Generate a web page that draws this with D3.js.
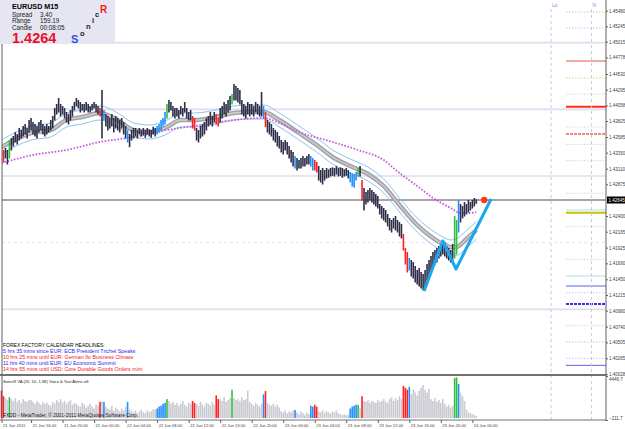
<!DOCTYPE html>
<html><head><meta charset="utf-8">
<script src="https://cdn.jsdelivr.net/npm/d3@7"></script>
<style>body{margin:0;background:#fff}svg{display:block}text{font-family:"Liberation Sans",Arial,sans-serif}</style>
</head><body><svg id="c" width="625" height="429"></svg>
<script>
// ---------- DATA ----------
const highs = [1.4345,1.4339,1.4342,1.4339,1.4354,1.4357,1.4360,1.4366,1.4363,1.4372,
1.4369,1.4375,1.4378,1.4372,1.4384,1.4387,1.4381,1.4378,1.4375,1.4381,
1.4384,1.4378,1.4375,1.4378,1.4375,1.4384,1.4390,1.4402,1.4408,1.4417,
1.4408,1.4405,1.4402,1.4396,1.4393,1.4399,1.4405,1.4411,1.4417,1.4414,
1.4411,1.4408,1.4408,1.4411,1.4408,1.4405,1.4408,1.4411,1.4408,1.4405,
1.4402,1.4429,1.4399,1.4393,1.4390,1.4387,1.4393,1.4387,1.4390,1.4387,
1.4384,1.4387,1.4381,1.4375,1.4369,1.4363,1.4369,1.4372,1.4372,1.4369,
1.4372,1.4369,1.4372,1.4369,1.4372,1.4370,1.4369,1.4374,1.4372,1.4375,
1.4378,1.4384,1.4387,1.4396,1.4408,1.4414,1.4411,1.4405,1.4402,1.4402,
1.4399,1.4405,1.4402,1.4411,1.4402,1.4396,1.4399,1.4390,1.4387,1.4372,
1.4369,1.4375,1.4378,1.4381,1.4387,1.4390,1.4396,1.4390,1.4396,1.4393,
1.4387,1.4402,1.4405,1.4411,1.4408,1.4414,1.4420,1.4423,1.4438,1.4435,
1.4432,1.4429,1.4414,1.4408,1.4405,1.4411,1.4408,1.4408,1.4405,1.4411,
1.4408,1.4405,1.4426,1.4405,1.4396,1.4384,1.4381,1.4378,1.4372,1.4369,
1.4366,1.4360,1.4354,1.4351,1.4354,1.4351,1.4345,1.4339,1.4336,1.4330,
1.4327,1.4324,1.4327,1.4330,1.4327,1.4330,1.4333,1.4330,1.4327,1.4324,
1.4321,1.4315,1.4309,1.4312,1.4309,1.4312,1.4310,1.4312,1.4313,1.4312,
1.4315,1.4312,1.4313,1.4312,1.4310,1.4312,1.4309,1.4306,1.4304,1.4303,
1.4306,1.4312,1.4315,1.4294,1.4282,1.4276,1.4279,1.4282,1.4279,1.4276,
1.4273,1.4270,1.4258,1.4255,1.4252,1.4249,1.4243,1.4237,1.4234,1.4237,
1.4240,1.4234,1.4231,1.4228,1.4213,1.4192,1.4186,1.4177,1.4174,1.4171,
1.4165,1.4159,1.4162,1.4156,1.4153,1.4159,1.4168,1.4174,1.4180,1.4186,
1.4189,1.4192,1.4195,1.4198,1.4204,1.4201,1.4195,1.4192,1.4189,1.4198,
1.4240,1.4234,1.4264,1.4258,1.4255,1.4261,1.4258,1.4264,1.4261,1.4264,
1.4267,1.4265];
const lows = [1.4324,1.4321,1.4327,1.4318,1.4327,1.4339,1.4345,1.4351,1.4348,1.4354,
1.4357,1.4360,1.4363,1.4357,1.4366,1.4369,1.4363,1.4360,1.4357,1.4366,
1.4369,1.4363,1.4360,1.4363,1.4366,1.4369,1.4372,1.4384,1.4393,1.4396,
1.4390,1.4393,1.4387,1.4381,1.4378,1.4384,1.4390,1.4399,1.4405,1.4402,
1.4396,1.4399,1.4396,1.4399,1.4396,1.4396,1.4399,1.4402,1.4396,1.4393,
1.4390,1.4357,1.4384,1.4375,1.4369,1.4372,1.4375,1.4366,1.4372,1.4369,
1.4366,1.4372,1.4363,1.4357,1.4351,1.4344,1.4354,1.4357,1.4360,1.4357,
1.4363,1.4360,1.4362,1.4358,1.4363,1.4360,1.4358,1.4363,1.4360,1.4363,
1.4366,1.4369,1.4375,1.4378,1.4387,1.4396,1.4399,1.4390,1.4387,1.4390,
1.4387,1.4393,1.4390,1.4396,1.4387,1.4384,1.4384,1.4372,1.4369,1.4354,
1.4351,1.4357,1.4360,1.4363,1.4369,1.4375,1.4378,1.4375,1.4381,1.4378,
1.4375,1.4381,1.4387,1.4393,1.4390,1.4396,1.4399,1.4408,1.4414,1.4414,
1.4411,1.4408,1.4393,1.4390,1.4387,1.4393,1.4390,1.4393,1.4390,1.4396,
1.4393,1.4390,1.4390,1.4387,1.4374,1.4366,1.4363,1.4360,1.4354,1.4351,
1.4345,1.4342,1.4336,1.4333,1.4339,1.4333,1.4327,1.4321,1.4315,1.4312,
1.4309,1.4312,1.4312,1.4315,1.4315,1.4318,1.4318,1.4315,1.4309,1.4309,
1.4306,1.4294,1.4291,1.4288,1.4294,1.4297,1.4298,1.4300,1.4301,1.4300,
1.4303,1.4300,1.4301,1.4298,1.4300,1.4301,1.4297,1.4291,1.4285,1.4283,
1.4294,1.4300,1.4300,1.4264,1.4249,1.4258,1.4261,1.4264,1.4261,1.4258,
1.4255,1.4252,1.4243,1.4237,1.4234,1.4231,1.4225,1.4219,1.4216,1.4222,
1.4219,1.4216,1.4210,1.4207,1.4189,1.4168,1.4156,1.4159,1.4150,1.4147,
1.4141,1.4138,1.4135,1.4132,1.4129,1.4135,1.4144,1.4147,1.4159,1.4165,
1.4168,1.4171,1.4177,1.4180,1.4183,1.4180,1.4177,1.4174,1.4171,1.4174,
1.4177,1.4183,1.4216,1.4231,1.4237,1.4240,1.4243,1.4246,1.4249,1.4252,
1.4255,1.4259];
const volumes = [2900,2300,2100,1900,2200,
2000,1800,2100,1700,1900,1600,2000,1800,1700,1900,
1900,1700,1500,1800,1600,1400,1700,1500,
1600,1400,1300,1700,1500,
1900,1700,2000,1600,1800,1500,1700,1900,1400,1600,
1500,1300,1200,1600,1400,1100,1300,1500,1200,1000,1400,1300,
1700,1800,1700,
1200,1000,900,1300,800,1100,900,700,1000,800,1200,
1700,
900,700,600,800,500,700,900,600,500,800,600,700,900,
900,1000,1200,1300,1500,1600,
2000,
1800,1500,1700,1400,1600,1300,1500,1800,1400,1200,1600,1500,
1800,1600,
1500,1300,1700,1400,1200,1600,1500,1300,1700,1400,
2400,2000,
2000,1800,2200,1700,1900,2100,
3000,
2100,1900,2000,1800,2200,1900,2000,2900,
1700,1500,1300,1600,1400,1200,
1500,2500,2850,
1600,1400,1300,1500,1200,1400,1100,
700,600,800,500,700,600,800,
850,
600,400,700,500,300,600,400,
1300,1200,1400,1200,
700,600,800,500,700,600,500,700,600,800,500,
400,300,400,300,350,
1000,1200,1300,1400,
1400,1000,
2300,
1800,1700,1900,1600,1800,1700,1600,1900,1700,1800,2000,1700,1600,
2000,2200,1800,2100,1900,2300,2000,
3400,3200,3000,3300,
2500,3000,2700,2400,2900,
3200,3500,3000,2700,3100,
2000,1800,2100,1700,1900,1600,2000,
1500,1200,1400,1100,1300,
4250,4300,3600,
2700,2300,1800,
900,600,500,400,300,200];
const redBars = [0,1,50,97,98,109,110,134,159,160,183,204,205,206];
const greenBars = [4,84,117,181,230,231];
const blueBars = [52,64,79,80,81,82,83,133,149,157,158,177,178,179,180,207,232];

// Sonic R dragon (EMA34 band) and EMA89, knots at bar index
const maIdx = [0,15,25,33,41,50,59,67,75,83,91,98,109,118,126,133,141,151,160,168,177,186,194,202,211,219,224,228,231,236,241];
const dragonMid = [1.43435,1.43645,1.4369,1.4384,1.43885,1.43945,1.4384,1.4369,1.4366,1.4372,1.4384,1.4384,1.43885,1.43945,1.4396,1.4396,1.4384,1.43645,1.43465,1.43285,1.4315,1.4303,1.4285,1.42565,1.42265,1.4207,1.4198,1.41935,1.41935,1.42055,1.4219];
const dragonHigh = [1.4354,1.4375,1.43795,1.43945,1.4399,1.4405,1.43945,1.43795,1.43765,1.43825,1.43945,1.43945,1.4399,1.4405,1.44065,1.44065,1.43945,1.4375,1.4357,1.4339,1.43255,1.43135,1.42955,1.4267,1.4237,1.42175,1.42085,1.4204,1.4206,1.4218,1.4232];
const dragonLow = [1.4333,1.4354,1.43585,1.43735,1.4378,1.4384,1.43735,1.43585,1.43555,1.43615,1.43735,1.43735,1.4378,1.4384,1.43855,1.43855,1.43735,1.4354,1.4336,1.4318,1.43045,1.42925,1.42745,1.4246,1.4216,1.41965,1.41875,1.4183,1.4181,1.4192,1.4205];
const ema89Idx = [0,16,33,50,67,84,101,118,133,143,151,168,181,194,202,211,219,228,233,238,241];
const ema89 = [1.43195,1.43315,1.4339,1.4351,1.43585,1.4369,1.43765,1.4384,1.4387,1.43765,1.4366,1.4351,1.4339,1.4324,1.43045,1.4285,1.4267,1.4252,1.42445,1.42445,1.4246];
const zigIdx = [214.5,224,230.7,248.5];
const zigPrice = [1.41275,1.42025,1.41605,1.42655];
const currentPrice = 1.4264;
const currentIdx = 245;
const roundLevels = [1.45,1.44,1.43,1.42,1.41];
const levelPrices = [1.4546,1.4522,1.44725,1.4447,1.4423,1.4404,1.43735,1.4363,1.43475,1.4323,1.4274,1.4249,1.4245,1.4224,1.4175,1.4150,1.4135,1.4125,1.4108,1.40755,1.4051,1.40265,1.4016];
const priceTicks = [1.45480,1.45245,1.45015,1.44778,1.44530,1.44295,1.44058,1.43825,1.43585,1.43350,1.43110,1.42875,1.42400,1.42165,1.41925,1.41690,1.41450,1.41215,1.40980,1.40740,1.40505,1.40265,1.40028];
const volTicks = [4446.7,-211.7];
const timeTickIdx = [0,15,31,47,63,79,95,111,127,143,159,175,191,207,223,239];
const timeTickLabels = ["21 Jun 2011","21 Jun 16:00","21 Jun 20:00","22 Jun 00:00","22 Jun 04:00","22 Jun 08:00","22 Jun 12:00","22 Jun 16:00","22 Jun 20:00","23 Jun 00:00","23 Jun 04:00","23 Jun 08:00","23 Jun 12:00","23 Jun 16:00","23 Jun 20:00","24 Jun 00:00"];
const vLineIdx = [279,299.5];
const vLineLabels = ["Lo","N"];
const headlines = ["5 hrs 35 mins since EUR: ECB President Trichet Speaks","10 hrs 25 mins until EUR: German Ifo Business Climate","11 hrs 40 mins until EUR: EU Economic Summit","14 hrs 55 mins until USD: Core Durable Goods Orders m/m"];
const headlineCurrency = ["EUR","EUR","EUR","USD"];

// ---------- STYLES ----------
const levelStyles = [
 ["#a8e0a8","1.5,1.5",1],["#c8c8f0","1.5,1.5",1],["#f4a8a8",null,2],["#c8e088","1.5,1.5",1],
 ["#f0c8d8","1.5,1.5",1],["#ff3010",null,2],["#f0c8d8","1.5,1.5",1],["#f08888","3,1",2],
 ["#a8e4e0","1.5,1.5",1],["#f0c8d8","1.5,1.5",1],["#f0c8d8","1.5,1.5",1],["#a8e4e0",null,1],
 ["#c8c000",null,2],["#f0c8d8","1.5,1.5",1],["#f0c8d8","1.5,1.5",1],["#a8e4e0",null,1],
 ["#6060f0",null,1],["#c8c8f0","1.5,1.5",1],["#3030f0","3,1",2],["#f0c8d8","1.5,1.5",1],
 ["#a8e0a8","1.5,1.5",1],["#c8c8f0","1.5,1.5",1],["#6060f0",null,1]];
const headlineColors = ["#2828f0","#f02020","#2828f0","#f02020"];
const RED="#ff2020", GREEN="#30c040", BLUE="#2090ff", DARK="#2e2e48";

// ---------- SCALES ----------
const svg = d3.select("#c");
const AX = 606;
const x = d3.scaleLinear().domain([0,241]).range([1.5,476.3]);
const y = d3.scaleLinear().domain([1.40015,1.4564]).range([375,0]);
const yv = d3.scaleLinear().domain([-211.7,4446.7]).range([420,376]);
const colorOf = i => redBars.includes(i)?RED:greenBars.includes(i)?GREEN:blueBars.includes(i)?BLUE:null;

svg.append("rect").attr("width",625).attr("height",429).attr("fill","#fff");
svg.append("clipPath").attr("id","pc").append("rect").attr("x",2).attr("y",0).attr("width",AX-2).attr("height",374);
const P = svg.append("g").attr("clip-path","url(#pc)");

// round levels
P.selectAll(".rl").data(roundLevels).join("line")
 .attr("x1",2).attr("x2",AX).attr("y1",d=>y(d)).attr("y2",d=>y(d))
 .attr("stroke",(d,i)=>i===3?"#e4e4f2":"#dedeef").attr("stroke-width",(d,i)=>i===3?1:1.6)
 .attr("stroke-dasharray",(d,i)=>i===3?"3,3":null);

// vertical dashed lines
svg.selectAll(".vl").data(vLineIdx).join("line")
 .attr("x1",d=>x(d)).attr("x2",d=>x(d)).attr("y1",9).attr("y2",420)
 .attr("stroke","#c8c8e4").attr("stroke-dasharray","3,3");
svg.selectAll(".vlt").data(vLineLabels).join("text")
 .attr("x",(d,i)=>x(vLineIdx[i])+1).attr("y",7).attr("font-size",4.6).attr("fill","#9a6cf0").text(d=>d);

// right side levels
P.selectAll(".lv").data(levelPrices).join("line")
 .attr("x1",566).attr("x2",AX).attr("y1",d=>y(d)).attr("y2",d=>y(d))
 .attr("stroke",(d,i)=>levelStyles[i][0]).attr("stroke-dasharray",(d,i)=>levelStyles[i][1])
 .attr("stroke-width",(d,i)=>levelStyles[i][2]);

// current price line
P.append("line").attr("x1",2).attr("x2",AX).attr("y1",y(currentPrice)).attr("y2",y(currentPrice))
 .attr("stroke","#202020").attr("stroke-width",0.8);

// moving averages
const mk = (idx,vals)=>d3.line().x((d,i)=>x(idx[i])).y(d=>y(d)).curve(d3.curveMonotoneX)(vals);
P.append("path").attr("d",mk(maIdx,dragonHigh)).attr("fill","none").attr("stroke","#88c4f4").attr("stroke-width",1);
P.append("path").attr("d",mk(maIdx,dragonLow)).attr("fill","none").attr("stroke","#88c4f4").attr("stroke-width",1);
P.append("path").attr("d",mk(maIdx,dragonMid)).attr("fill","none").attr("stroke","#a4a4a8").attr("stroke-width",4.5);
P.append("path").attr("d",mk(maIdx,dragonMid)).attr("fill","none").attr("stroke","#cfcfd2").attr("stroke-width",1.3);
P.append("path").attr("d",mk(ema89Idx,ema89)).attr("fill","none").attr("stroke","#c858e0").attr("stroke-width",1.8).attr("stroke-dasharray","1.6,1.6");

// bars
P.selectAll(".bar").data(highs).join("line")
 .attr("x1",(d,i)=>x(i)).attr("x2",(d,i)=>x(i))
 .attr("y1",d=>y(d)).attr("y2",(d,i)=>y(lows[i])+0.5)
 .attr("stroke",(d,i)=>colorOf(i)||DARK).attr("stroke-width",1.6);

// zigzag & dot
P.append("path").attr("d",d3.line().x((d,i)=>x(zigIdx[i])).y(d=>y(d))(zigPrice))
 .attr("fill","none").attr("stroke","#18a8f0").attr("stroke-width",3).attr("stroke-linejoin","round");
P.append("circle").attr("cx",x(currentIdx)).attr("cy",y(currentPrice)).attr("r",3.2).attr("fill","#ff3a10");

// volume
svg.selectAll(".vb").data(volumes).join("rect")
 .attr("x",(d,i)=>x(i)-0.8).attr("width",1.6)
 .attr("y",d=>yv(d)).attr("height",d=>yv(0)-yv(d))
 .attr("fill",(d,i)=>colorOf(i)||"#cacad2");

// frame
svg.append("line").attr("x1",2).attr("x2",2).attr("y1",0).attr("y2",420).attr("stroke","#606060");
svg.append("line").attr("x1",0).attr("x2",AX).attr("y1",375).attr("y2",375).attr("stroke","#707070").attr("stroke-width",2);
svg.append("line").attr("x1",0).attr("x2",AX).attr("y1",420).attr("y2",420).attr("stroke","#707070").attr("stroke-width",1);

// price axis
const pa = svg.append("g").attr("transform",`translate(${AX},0)`)
 .call(d3.axisRight(y).tickValues(priceTicks).tickFormat(d3.format(".5f")).tickSize(2).tickPadding(1));
pa.select(".domain").remove();
pa.append("line").attr("y1",0).attr("y2",421).attr("stroke","#606060");
pa.selectAll("text").attr("font-size",4.5).attr("fill","#404040").attr("font-family","Liberation Sans");
pa.selectAll("line").attr("stroke","#606060");
// current price box
svg.append("rect").attr("x",AX+1).attr("y",y(currentPrice)-3.5).attr("width",18).attr("height",7).attr("fill","#000");
svg.append("text").attr("x",AX+2.5).attr("y",y(currentPrice)+1.6).attr("font-size",4.5).attr("fill","#fff").text(d3.format(".5f")(currentPrice+0.00005));

// volume axis
const va = svg.append("g").attr("transform",`translate(${AX},0)`)
 .call(d3.axisRight(yv).tickValues(volTicks).tickFormat(d3.format(".1f")).tickSize(2).tickPadding(1));
va.select(".domain").remove();
va.selectAll("text").attr("font-size",4.5).attr("fill","#404040").attr("dy",(d,i)=>i===0?"0.9em":"-0.1em");
va.selectAll("line").attr("stroke","#606060");

// time axis
const ta = svg.append("g").attr("transform","translate(0,420)")
 .call(d3.axisBottom(x).tickValues(timeTickIdx).tickFormat((d,i)=>timeTickLabels[i]).tickSize(3).tickPadding(1));
ta.select(".domain").remove();
ta.selectAll("text").attr("font-size",4.1).attr("fill","#404040").attr("text-anchor","start").attr("dx",1);
ta.selectAll("line").attr("stroke","#606060");

// header box
svg.append("rect").attr("x",0).attr("y",0).attr("width",115).attr("height",44).attr("fill","#e6e6f2");
const H = svg.append("g");
H.append("text").attr("x",12).attr("y",9).attr("font-size",7.2).attr("font-weight","bold").attr("fill","#000").text("EURUSD  M15");
[["Spread","3.40",16.6],["Range","159.19",23.2],["Candle","00:08:05",30]].forEach(r=>{
  H.append("text").attr("x",12).attr("y",r[2]).attr("font-size",6.3).attr("fill","#202020").text(r[0]);
  H.append("text").attr("x",40).attr("y",r[2]).attr("font-size",6.3).attr("fill","#202020").text(r[1]);
});
H.append("text").attr("x",12).attr("y",43).attr("font-size",14.5).attr("font-weight","bold").attr("fill","#e8102a").text(d3.format(".4f")(currentPrice));
H.append("text").attr("x",71).attr("y",42.5).attr("font-size",11).attr("font-weight","bold").attr("fill","#3050e0").text("S");
[["o",80,36],["n",86,28.5],["i",92,22.7],["c",95,17]].forEach(c=>
  H.append("text").attr("x",c[1]).attr("y",c[2]).attr("font-size",7.5).attr("font-weight","bold").attr("fill","#202020").text(c[0]));
H.append("text").attr("x",100).attr("y",12.7).attr("font-size",10).attr("font-weight","bold").attr("fill","#f02020").text("R");

// headlines
svg.append("text").attr("x",3).attr("y",346.5).attr("font-size",5).attr("fill","#000").text("FOREX FACTORY CALENDAR HEADLINES:");
svg.selectAll(".hl").data(headlines).join("text")
 .attr("x",3).attr("y",(d,i)=>353.3+6*i).attr("font-size",5.3)
 .attr("fill",(d,i)=>headlineColors[i]).text(d=>d);

// volume pane texts
svg.append("text").attr("x",3).attr("y",383).attr("font-size",4.1).attr("fill","#202020").text("SonicR VA  (20, 10, 1.38)    Voice & Text Alerts off.");
svg.append("text").attr("x",3).attr("y",416.5).attr("font-size",4.9).attr("fill","#202020").text("FXDD - MetaTrader, © 2001-2011 MetaQuotes Software Corp.");
</script></body></html>
